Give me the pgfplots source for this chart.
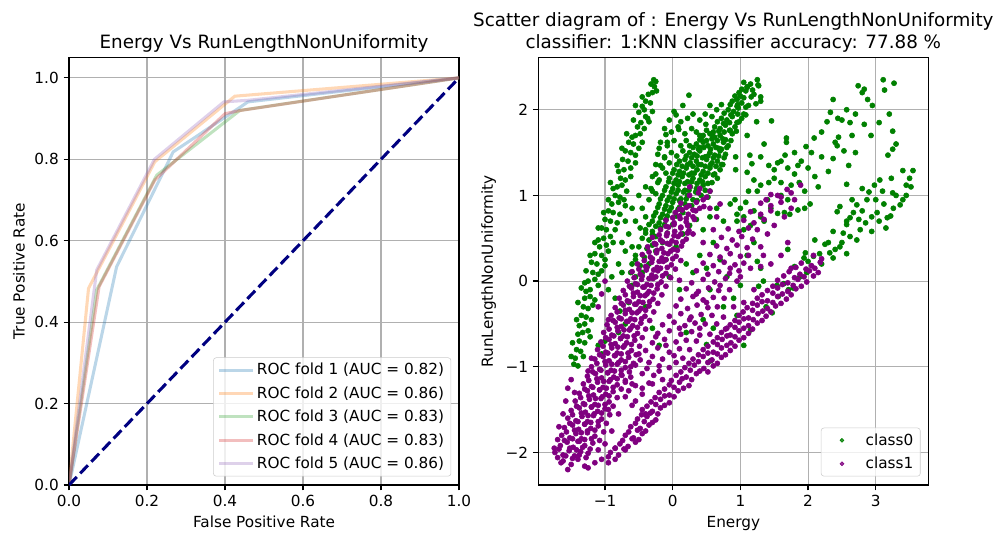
\documentclass[border=0pt]{standalone}
\usepackage{fontspec}
\setmainfont{DejaVu Sans}
\usepackage{pgfplots}
\pgfplotsset{compat=1.18}
\usepackage{pgfplotstable}
\definecolor{tabblue}{HTML}{1F77B4}
\definecolor{taborange}{HTML}{FF7F0E}
\definecolor{tabgreen}{HTML}{2CA02C}
\definecolor{tabred}{HTML}{D62728}
\definecolor{tabpurple}{HTML}{9467BD}
\definecolor{navyc}{HTML}{000080}
\definecolor{clsgreen}{HTML}{008000}
\definecolor{clspurple}{HTML}{800080}
\definecolor{gridgray}{HTML}{B0B0B0}
\definecolor{legendgray}{HTML}{CCCCCC}

\pgfplotstableread{
x y
-0.28 2.35
-0.25 2.33
-0.32 2.30
-0.27 2.27
-0.30 2.20
-0.36 2.18
-0.40 2.10
-0.33 2.08
-0.55 2.05
-0.45 2.04
-0.42 2.00
-0.50 1.97
-0.40 1.92
-0.37 1.90
-0.47 1.85
-0.35 1.86
-0.52 1.80
-0.55 1.70
-0.48 1.72
-0.60 1.68
-0.58 1.60
-0.65 1.62
-0.62 1.50
-0.70 1.52
-0.55 1.47
-0.66 1.40
-0.74 1.42
-0.72 1.30
-0.62 1.32
-0.80 1.28
-0.77 1.20
-0.70 1.18
-0.82 1.10
-0.75 1.12
-0.88 1.08
-0.85 1.00
-0.78 0.98
-0.90 0.90
-0.80 0.92
-0.70 0.88
-0.88 0.80
-0.95 0.82
-0.92 0.70
-1.00 0.72
-0.82 0.68
-0.98 0.60
-1.05 0.62
-1.02 0.50
-0.92 0.52
-1.10 0.48
-1.08 0.40
-0.98 0.42
-1.05 0.30
-1.15 0.32
-1.12 0.20
-1.20 0.22
-1.00 0.18
-1.18 0.10
-1.10 0.08
-1.25 0.00
-1.15 0.02
-1.30 -0.02
-1.22 -0.10
-1.28 -0.12
-1.30 -0.20
-1.22 -0.18
-1.15 -0.22
-1.32 -0.30
-1.25 -0.32
-1.35 -0.40
-1.28 -0.42
-1.30 -0.50
-1.38 -0.52
-1.33 -0.60
-1.40 -0.62
-1.25 -0.58
-1.38 -0.70
-1.30 -0.72
-1.42 -0.80
-1.36 -0.82
-1.44 -0.90
-1.46 -0.97
-1.40 -0.99
-1.10 -0.75
-1.05 -0.85
-1.00 -0.70
-0.24 2.22
-0.30 1.98
-0.42 1.78
-0.45 1.62
-0.50 1.55
-0.55 1.38
-0.62 1.22
-0.68 1.05
-0.72 0.95
-0.78 0.78
-0.85 0.60
-0.88 0.45
-0.95 0.35
-1.00 0.25
-1.05 0.12
-1.10 -0.05
-1.18 -0.28
-1.20 -0.45
-1.22 -0.65
-1.32 -0.88
-0.45 2.15
-0.58 1.88
-0.68 1.72
-0.75 1.55
-0.82 1.35
-0.92 1.15
-0.95 0.95
-1.02 0.80
-1.10 0.62
-1.15 0.45
-1.22 0.30
-1.28 0.12
-1.35 -0.08
-1.40 -0.25
-1.42 -0.45
-1.48 -0.72
-1.50 -0.88
-0.65 0.55
-0.55 0.70
-0.45 0.85
-0.60 0.85
-0.50 1.00
-0.40 1.10
-0.35 0.95
-0.70 0.70
-0.75 0.45
-0.60 0.40
-0.48 0.62
-0.40 0.75
-0.12 1.78
-0.02 1.74
0.08 1.80
0.18 1.72
0.28 1.78
0.35 1.74
0.12 1.86
0.22 1.90
-0.05 1.88
0.02 1.98
0.30 1.95
0.40 1.88
0.48 1.95
0.58 1.92
0.65 2.00
0.55 2.05
0.72 2.06
-0.18 1.62
-0.08 1.58
0.02 1.64
0.12 1.58
0.20 1.64
-0.22 1.48
-0.12 1.44
-0.02 1.50
0.06 1.46
-0.25 1.36
-0.15 1.32
-0.05 1.38
-0.30 1.22
-0.20 1.18
-0.10 1.26
-0.32 1.08
-0.25 1.02
0.15 2.05
1.05 2.32
1.15 2.30
1.25 2.35
1.27 2.28
1.10 2.26
0.98 2.20
1.08 2.22
1.20 2.18
1.30 2.15
0.88 2.10
0.95 2.12
1.02 2.08
1.12 2.05
0.82 2.00
0.90 1.98
0.97 2.02
1.05 1.95
0.72 1.90
0.80 1.88
0.88 1.92
0.95 1.85
1.02 1.90
0.62 1.80
0.70 1.78
0.78 1.82
0.85 1.76
0.92 1.80
0.45 1.70
0.55 1.72
0.62 1.68
0.70 1.70
0.78 1.65
0.88 1.72
0.40 1.65
0.35 1.60
0.45 1.62
0.52 1.58
0.60 1.60
0.68 1.55
0.75 1.62
0.82 1.58
0.25 1.58
0.25 1.50
0.32 1.48
0.40 1.52
0.48 1.45
0.55 1.50
0.62 1.47
0.70 1.52
0.78 1.48
0.15 1.52
0.10 1.40
0.18 1.42
0.26 1.38
0.35 1.40
0.42 1.36
0.50 1.42
0.58 1.38
0.66 1.40
0.74 1.36
0.02 1.30
0.10 1.28
0.20 1.32
0.28 1.26
0.36 1.30
0.45 1.28
0.55 1.32
0.62 1.25
0.70 1.30
-0.05 1.20
0.05 1.18
0.14 1.22
0.22 1.16
0.30 1.20
0.40 1.18
0.48 1.22
0.58 1.15
0.66 1.20
-0.10 1.10
0.00 1.08
0.08 1.12
0.18 1.06
0.26 1.10
0.35 1.08
0.45 1.12
0.55 1.05
-0.15 1.00
-0.05 0.98
0.05 1.02
0.12 0.96
0.22 1.00
0.30 0.95
0.42 1.00
0.52 0.98
-0.20 0.90
-0.10 0.88
0.00 0.92
0.10 0.86
0.18 0.90
0.28 0.88
-0.25 0.80
-0.15 0.78
-0.05 0.82
0.05 0.76
0.15 0.80
-0.30 0.70
-0.20 0.68
-0.10 0.72
0.00 0.66
-0.40 0.60
-0.30 0.58
-0.18 0.62
-0.08 0.56
-0.45 0.50
-0.35 0.48
-0.25 0.52
-0.50 0.40
-0.38 0.38
-0.30 0.42
-0.55 0.30
-0.42 0.28
-0.60 0.20
-0.48 0.18
-0.62 0.10
-0.55 0.05
1.02 2.24
1.18 2.23
0.92 2.16
1.05 2.14
1.16 2.15
0.85 2.06
0.95 2.04
1.08 2.03
0.76 1.96
0.86 1.94
0.96 1.95
1.08 1.94
0.66 1.86
0.75 1.84
0.84 1.85
0.98 1.86
0.50 1.76
0.60 1.74
0.68 1.75
0.76 1.74
0.84 1.76
0.94 1.75
0.42 1.66
0.50 1.64
0.58 1.66
0.66 1.64
0.74 1.66
0.86 1.64
0.30 1.56
0.38 1.54
0.46 1.56
0.56 1.54
0.64 1.56
0.72 1.54
0.80 1.56
0.20 1.46
0.28 1.44
0.36 1.46
0.44 1.44
0.52 1.46
0.60 1.44
0.68 1.46
0.76 1.44
0.06 1.36
0.14 1.34
0.22 1.36
0.30 1.34
0.38 1.36
0.48 1.34
0.56 1.36
0.64 1.34
0.72 1.36
0.00 1.26
0.08 1.24
0.16 1.26
0.24 1.24
0.32 1.26
0.42 1.24
0.52 1.26
0.60 1.24
-0.06 1.16
0.02 1.14
0.10 1.16
0.18 1.14
0.28 1.16
0.36 1.14
0.44 1.16
0.52 1.14
-0.12 1.06
-0.02 1.04
0.08 1.06
0.16 1.04
0.24 1.06
0.34 1.04
0.48 1.06
-0.18 0.96
-0.08 0.94
0.02 0.96
0.10 0.94
0.20 0.96
0.36 0.94
-0.22 0.86
-0.12 0.84
-0.02 0.86
0.08 0.84
-0.28 0.76
-0.18 0.74
-0.08 0.76
-0.35 0.66
-0.25 0.64
-0.12 0.66
-0.40 0.56
-0.30 0.54
-0.22 1.15
-0.18 1.35
-0.25 1.25
-0.12 1.45
-0.20 1.55
-0.30 1.05
-0.08 1.62
0.24 2.17
0.05 1.94
0.09 1.77
-0.10 1.71
0.49 1.83
0.58 1.71
0.40 1.70
0.40 1.56
0.96 2.06
1.00 2.16
1.10 2.27
1.26 2.29
1.23 2.07
1.30 2.10
1.24 1.86
1.10 1.70
0.93 1.30
0.93 1.45
1.10 1.27
-0.90 0.05
-0.80 0.20
-0.70 0.35
-0.75 0.10
-0.60 -0.05
-0.85 -0.20
-0.78 -0.35
-0.70 -0.50
-0.80 -0.60
-0.65 -0.25
-0.95 -0.10
-0.55 0.25
-0.45 0.10
-0.35 0.20
-0.25 0.35
-0.15 0.45
-0.10 0.25
0.05 0.40
0.15 0.55
0.25 0.65
0.35 0.72
0.45 0.60
0.55 0.75
0.65 0.85
0.75 0.70
0.85 0.90
0.95 0.78
0.40 0.30
0.60 0.45
0.30 0.10
0.50 0.15
0.70 0.25
0.80 0.05
0.55 -0.10
0.90 -0.20
1.00 -0.05
0.75 -0.30
0.45 -0.45
0.60 -0.55
0.95 -0.40
0.20 -0.60
-0.20 -0.75
-0.40 -0.30
-0.30 -0.55
0.50 -0.74
0.56 -0.93
0.10 -0.10
-0.05 0.05
0.20 0.20
1.10 0.30
1.20 0.45
1.05 0.60
1.30 0.75
3.11 2.35
3.27 2.31
3.13 2.23
2.74 2.28
2.80 2.20
2.88 2.12
2.83 2.24
2.37 2.12
2.57 2.00
2.33 1.97
3.20 1.95
2.62 1.85
2.50 1.88
2.28 1.86
2.44 1.90
2.83 1.83
2.20 1.74
2.09 1.67
2.45 1.68
2.40 1.62
2.93 1.70
3.25 1.54
3.18 1.47
2.43 1.58
2.05 1.50
2.20 1.45
2.37 1.43
2.53 1.52
1.97 1.57
1.90 1.40
2.00 1.32
2.10 1.22
1.68 1.62
1.66 1.47
1.55 1.38
1.70 1.32
1.85 1.35
1.80 1.25
1.87 1.15
1.42 1.35
1.50 1.30
1.60 1.40
1.14 1.47
1.17 1.37
1.20 1.18
1.30 1.12
1.42 1.15
1.50 1.20
1.60 1.15
1.75 1.12
1.12 1.05
1.25 1.05
1.46 1.87
1.68 1.67
1.60 1.00
1.40 0.95
1.70 0.95
1.95 1.05
2.15 1.10
2.30 1.28
2.60 1.35
2.70 1.50
1.80 1.50
1.30 1.45
1.35 1.60
3.05 1.85
2.95 2.05
3.30 1.60
3.25 1.75
2.70 1.95
2.65 1.70
3.40 1.29
3.55 1.29
3.45 1.12
3.52 1.10
2.57 1.13
2.80 1.08
2.90 1.04
3.06 1.18
3.23 1.20
2.98 1.12
3.10 1.05
3.25 1.03
3.45 1.00
2.65 0.95
3.36 0.89
3.17 0.74
3.22 0.76
3.26 0.85
3.02 0.80
3.12 0.90
2.87 0.95
2.77 0.60
2.85 0.68
2.94 0.75
2.62 0.74
2.72 0.89
2.67 0.80
2.43 0.81
2.47 0.87
2.57 0.66
2.57 0.70
2.37 0.58
2.52 0.56
2.62 0.52
2.72 0.48
2.94 0.58
2.10 0.48
1.96 0.33
2.25 0.43
2.40 0.37
2.32 0.33
2.47 0.40
2.57 0.32
2.20 0.20
2.37 0.27
2.17 0.32
2.00 0.23
2.08 0.29
1.94 0.27
1.80 0.17
1.70 0.37
1.27 -0.06
1.34 0.00
1.54 -0.05
1.64 -0.03
1.71 -0.10
1.78 -0.08
1.88 0.05
1.98 0.10
1.56 -0.18
1.47 -0.37
1.15 -0.57
1.25 0.23
1.30 0.15
1.05 -0.75
1.38 -0.30
3.30 1.00
3.40 0.95
3.00 0.95
2.80 0.82
3.15 0.62
3.05 0.70
2.50 0.45
2.30 0.45
2.75 0.72
3.50 1.20
0.92 0.95
1.00 0.85
1.08 0.92
0.95 0.70
1.05 0.75
1.15 0.65
1.20 0.82
1.45 0.85
1.55 0.79
1.65 0.80
1.73 0.78
1.85 0.83
1.95 0.85
2.03 0.90
1.35 0.70
}\classzero

\pgfplotstableread{
x y
-1.62 -2.10
-1.50 -2.14
-1.40 -2.08
-1.30 -2.16
-1.74 -2.00
-1.62 -2.03
-1.53 -1.98
-1.45 -2.04
-1.36 -1.99
-1.25 -2.01
-1.66 -1.92
-1.56 -1.88
-1.47 -1.94
-1.38 -1.87
-1.30 -1.92
-1.18 -1.89
-1.64 -1.80
-1.52 -1.83
-1.43 -1.78
-1.35 -1.84
-1.26 -1.77
-1.15 -1.81
-1.60 -1.71
-1.48 -1.68
-1.39 -1.73
-1.30 -1.67
-1.21 -1.72
-1.10 -1.69
-1.55 -1.60
-1.43 -1.63
-1.34 -1.58
-1.26 -1.64
-1.17 -1.57
-1.05 -1.61
-1.50 -1.51
-1.38 -1.48
-1.29 -1.53
-1.20 -1.47
-1.11 -1.52
-1.00 -1.49
-1.44 -1.40
-1.32 -1.43
-1.23 -1.38
-1.15 -1.44
-1.06 -1.37
-0.94 -1.41
-1.38 -1.31
-1.26 -1.28
-1.17 -1.33
-1.08 -1.27
-0.99 -1.32
-0.88 -1.29
-1.32 -1.20
-1.20 -1.23
-1.11 -1.18
-1.03 -1.24
-0.94 -1.17
-0.82 -1.21
-1.26 -1.11
-1.14 -1.08
-1.05 -1.13
-0.96 -1.07
-0.87 -1.12
-0.76 -1.09
-1.20 -1.00
-1.08 -1.03
-0.99 -0.98
-0.91 -1.04
-0.82 -0.97
-0.70 -1.01
-1.15 -0.91
-1.03 -0.88
-0.94 -0.93
-0.85 -0.87
-0.76 -0.92
-0.65 -0.89
-1.11 -0.80
-0.99 -0.83
-0.90 -0.78
-0.82 -0.84
-0.73 -0.77
-0.61 -0.81
-1.06 -0.71
-0.94 -0.68
-0.85 -0.73
-0.77 -0.67
-0.68 -0.72
-0.56 -0.69
-1.02 -0.60
-0.90 -0.63
-0.81 -0.58
-0.73 -0.64
-0.64 -0.57
-0.52 -0.61
-0.97 -0.51
-0.85 -0.48
-0.76 -0.53
-0.68 -0.47
-0.59 -0.52
-0.47 -0.49
-0.91 -0.40
-0.79 -0.43
-0.70 -0.38
-0.62 -0.44
-0.53 -0.37
-0.41 -0.41
-0.85 -0.31
-0.73 -0.28
-0.64 -0.33
-0.56 -0.27
-0.47 -0.32
-0.35 -0.29
-0.79 -0.20
-0.67 -0.23
-0.58 -0.18
-0.50 -0.24
-0.41 -0.17
-0.29 -0.21
-0.73 -0.11
-0.61 -0.08
-0.52 -0.13
-0.44 -0.07
-0.35 -0.12
-0.23 -0.09
-0.67 0.00
-0.55 -0.03
-0.46 0.02
-0.38 -0.04
-0.29 0.03
-0.17 -0.01
-0.60 0.11
-0.48 0.08
-0.39 0.13
-0.31 0.07
-0.22 0.12
-0.10 0.09
-0.52 0.20
-0.40 0.17
-0.31 0.22
-0.23 0.16
-0.14 0.23
-0.02 0.19
-0.45 0.31
-0.33 0.28
-0.24 0.33
-0.16 0.27
-0.07 0.32
0.05 0.29
-0.37 0.40
-0.25 0.43
-0.16 0.38
-0.08 0.44
0.01 0.37
0.13 0.41
-0.30 0.51
-0.18 0.48
-0.09 0.53
-0.01 0.47
0.08 0.52
0.20 0.49
-0.18 0.60
-0.06 0.63
0.03 0.58
0.12 0.62
0.24 0.59
-0.10 0.71
0.02 0.68
0.11 0.73
0.20 0.69
0.32 0.72
0.04 0.80
0.14 0.83
0.23 0.78
0.34 0.82
0.12 0.91
0.24 0.88
0.35 0.92
0.46 0.87
0.25 1.00
0.38 1.03
0.50 0.98
0.55 1.05
0.25 1.10
0.40 1.08
0.45 0.95
-1.70 -2.06
-1.58 -2.04
-1.48 -2.07
-1.38 -2.03
-1.28 -2.06
-1.68 -1.96
-1.52 -1.95
-1.42 -1.97
-1.33 -1.94
-1.22 -1.96
-1.10 -1.97
-1.60 -1.86
-1.48 -1.84
-1.40 -1.87
-1.30 -1.85
-1.20 -1.84
-1.08 -1.86
-1.57 -1.76
-1.45 -1.74
-1.35 -1.77
-1.26 -1.75
-1.15 -1.74
-1.02 -1.76
-1.52 -1.66
-1.40 -1.64
-1.30 -1.67
-1.21 -1.65
-1.10 -1.64
-0.98 -1.66
-1.48 -1.56
-1.35 -1.54
-1.25 -1.57
-1.16 -1.55
-1.05 -1.54
-0.93 -1.56
-1.42 -1.46
-1.30 -1.44
-1.20 -1.47
-1.10 -1.45
-1.00 -1.44
-0.88 -1.46
-1.36 -1.36
-1.24 -1.34
-1.14 -1.37
-1.04 -1.35
-0.94 -1.34
-0.82 -1.36
-1.30 -1.26
-1.18 -1.24
-1.08 -1.27
-0.98 -1.25
-0.88 -1.24
-0.76 -1.26
-1.24 -1.16
-1.12 -1.14
-1.02 -1.17
-0.92 -1.15
-0.82 -1.14
-0.70 -1.16
-1.18 -1.06
-1.06 -1.04
-0.96 -1.07
-0.86 -1.05
-0.76 -1.04
-0.64 -1.06
-1.12 -0.96
-1.00 -0.94
-0.90 -0.97
-0.80 -0.95
-0.70 -0.94
-0.58 -0.96
-1.08 -0.86
-0.96 -0.84
-0.86 -0.87
-0.76 -0.85
-0.66 -0.84
-0.54 -0.86
-1.03 -0.76
-0.91 -0.74
-0.81 -0.77
-0.71 -0.75
-0.61 -0.74
-0.49 -0.76
-0.99 -0.66
-0.87 -0.64
-0.77 -0.67
-0.67 -0.65
-0.57 -0.64
-0.45 -0.66
-0.94 -0.56
-0.82 -0.54
-0.72 -0.57
-0.62 -0.55
-0.52 -0.54
-0.40 -0.56
-0.88 -0.46
-0.76 -0.44
-0.66 -0.47
-0.56 -0.45
-0.46 -0.44
-0.34 -0.46
-0.82 -0.36
-0.70 -0.34
-0.60 -0.37
-0.50 -0.35
-0.40 -0.34
-0.28 -0.36
-0.76 -0.26
-0.64 -0.24
-0.54 -0.27
-0.44 -0.25
-0.34 -0.24
-0.22 -0.26
-0.70 -0.16
-0.58 -0.14
-0.48 -0.17
-0.38 -0.15
-0.28 -0.14
-0.16 -0.16
-0.64 -0.06
-0.52 -0.04
-0.42 -0.07
-0.32 -0.05
-0.22 -0.04
-0.10 -0.06
-0.57 0.04
-0.45 0.06
-0.35 0.03
-0.25 0.05
-0.15 0.06
-0.03 0.04
-0.50 0.14
-0.38 0.16
-0.28 0.13
-0.18 0.15
-0.08 0.16
0.04 0.14
-0.42 0.24
-0.30 0.26
-0.20 0.23
-0.10 0.25
0.00 0.26
0.12 0.24
-0.35 0.34
-0.23 0.36
-0.13 0.33
-0.03 0.35
0.07 0.36
-0.27 0.44
-0.15 0.46
-0.05 0.43
0.05 0.45
0.15 0.46
-0.20 0.54
-0.08 0.56
0.02 0.53
0.12 0.55
0.22 0.56
-0.10 0.64
0.02 0.66
0.12 0.63
0.22 0.65
0.00 0.74
0.10 0.76
0.20 0.73
0.30 0.75
0.10 0.84
0.20 0.86
0.30 0.83
0.40 0.85
-1.70 -1.85
-1.75 -1.95
-1.68 -1.70
-1.62 -1.55
-1.58 -1.40
-1.55 -1.25
-1.50 -1.15
-1.45 -1.30
-1.65 -2.12
-1.55 -2.20
-1.10 -0.30
-1.05 -0.15
-1.00 0.00
-0.95 -0.45
-1.20 -0.90
-1.25 -1.05
-1.15 -2.12
-1.05 -2.08
-1.25 -2.18
-0.65 -1.28
-0.45 -1.32
-0.70 -1.18
-0.55 -1.22
-0.35 -1.19
-0.62 -1.12
-0.45 -1.08
-0.28 -1.10
-0.55 -0.98
-0.38 -1.02
-0.20 -0.99
-0.05 -1.01
-0.48 -0.92
-0.30 -0.88
-0.15 -0.91
0.02 -0.87
-0.40 -0.81
-0.22 -0.78
-0.05 -0.83
0.10 -0.79
-0.30 -0.72
-0.12 -0.68
0.05 -0.71
0.20 -0.69
-0.22 -0.61
-0.05 -0.58
0.12 -0.62
0.28 -0.59
0.40 -0.63
-0.15 -0.51
0.02 -0.48
0.18 -0.52
0.33 -0.49
0.48 -0.50
-0.05 -0.41
0.12 -0.38
0.27 -0.42
0.42 -0.39
0.58 -0.40
0.05 -0.29
0.22 -0.32
0.36 -0.28
0.52 -0.31
0.66 -0.30
0.12 -0.21
0.30 -0.18
0.45 -0.22
0.60 -0.19
0.76 -0.20
0.20 -0.09
0.38 -0.12
0.53 -0.08
0.68 -0.11
0.84 -0.10
0.10 0.01
0.28 -0.02
0.45 0.02
0.62 -0.01
0.78 0.03
0.95 0.00
0.35 0.12
0.52 0.08
0.68 0.11
0.84 0.09
0.98 0.12
0.45 0.21
0.60 0.18
0.76 0.22
0.92 0.19
1.05 0.21
0.55 0.31
0.70 0.28
0.85 0.32
1.00 0.29
1.12 0.30
0.65 0.41
0.80 0.38
0.95 0.42
1.10 0.39
0.72 0.51
0.88 0.48
1.02 0.52
1.18 0.49
0.82 0.61
0.98 0.58
1.12 0.62
1.25 0.60
1.05 0.71
1.20 0.68
1.35 0.72
1.15 0.81
1.30 0.78
1.45 0.82
1.30 0.91
1.45 0.88
1.60 0.92
1.45 1.01
1.60 0.98
1.75 1.03
1.69 1.07
1.89 1.12
1.34 0.30
1.30 0.17
1.75 0.15
-0.55 -1.40
-0.45 -1.25
-0.40 -1.55
-0.30 -1.20
-0.15 -1.15
-0.20 -1.05
-0.62 -1.00
-0.50 -0.85
-0.35 -0.95
-0.25 -0.65
-0.10 -0.75
0.05 -0.95
0.15 -0.90
0.25 -0.80
0.35 -0.70
0.10 -0.55
0.25 -0.45
0.40 -0.55
0.55 -0.62
0.65 -0.50
0.75 -0.42
0.50 -0.25
0.35 -0.15
0.70 -0.05
0.85 0.15
1.00 0.05
1.15 0.15
1.20 -0.10
1.05 -0.25
0.90 -0.30
0.80 -0.55
1.30 0.40
1.40 0.55
1.50 0.65
1.38 0.95
1.55 1.00
0.60 0.60
0.45 0.45
0.30 0.55
0.65 0.75
0.55 0.85
0.70 0.90
1.45 0.20
1.60 0.30
1.70 0.45
1.65 0.75
1.75 0.85
1.80 0.95
-0.95 -2.12
-0.85 -2.08
-0.92 -2.00
-0.80 -2.03
-0.70 -1.97
-0.78 -1.90
-0.66 -1.93
-0.55 -1.88
-0.70 -1.80
-0.58 -1.83
-0.45 -1.78
-0.62 -1.70
-0.48 -1.72
-0.35 -1.68
-0.52 -1.61
-0.38 -1.58
-0.25 -1.62
-0.45 -1.50
-0.30 -1.52
-0.18 -1.48
-0.60 -1.45
-0.32 -1.41
-0.18 -1.38
-0.05 -1.42
-0.20 -1.30
-0.05 -1.33
0.08 -1.28
-0.05 -1.21
0.10 -1.18
0.24 -1.22
0.05 -1.10
0.20 -1.12
0.35 -1.08
0.18 -1.01
0.32 -0.98
0.46 -1.02
0.60 -0.99
0.30 -0.91
0.45 -0.88
0.58 -0.92
0.72 -0.89
0.45 -0.80
0.60 -0.83
0.72 -0.78
0.85 -0.81
0.60 -0.71
0.73 -0.68
0.86 -0.72
0.98 -0.69
0.72 -0.60
0.85 -0.63
0.98 -0.58
1.12 -0.61
0.85 -0.51
0.98 -0.48
1.12 -0.52
1.25 -0.49
0.98 -0.40
1.12 -0.43
1.26 -0.38
1.38 -0.41
1.10 -0.31
1.25 -0.28
1.40 -0.32
1.52 -0.29
1.25 -0.20
1.40 -0.23
1.55 -0.18
1.68 -0.21
1.40 -0.11
1.55 -0.08
1.70 -0.12
1.82 -0.09
1.55 0.01
1.70 -0.02
1.85 0.02
1.98 -0.01
1.72 0.11
1.88 0.08
2.02 0.12
2.15 0.10
1.90 0.21
2.05 0.18
2.18 0.22
2.08 0.30
2.20 0.26
-0.85 -1.95
-0.72 -1.96
-0.74 -1.86
-0.60 -1.84
-0.50 -1.85
-0.65 -1.76
-0.52 -1.74
-0.40 -1.75
-0.55 -1.66
-0.42 -1.64
-0.30 -1.65
-0.46 -1.56
-0.33 -1.54
-0.22 -1.55
-0.38 -1.46
-0.25 -1.44
-0.12 -1.45
-0.26 -1.36
-0.12 -1.34
0.02 -1.35
-0.12 -1.26
0.02 -1.24
0.16 -1.25
-0.02 -1.16
0.14 -1.14
0.28 -1.15
0.12 -1.06
0.26 -1.04
0.40 -1.05
0.52 -1.06
0.24 -0.96
0.38 -0.94
0.52 -0.95
0.66 -0.96
0.38 -0.86
0.52 -0.84
0.66 -0.85
0.78 -0.86
0.52 -0.76
0.66 -0.74
0.80 -0.75
0.92 -0.76
0.66 -0.66
0.80 -0.64
0.92 -0.65
1.05 -0.66
0.78 -0.56
0.92 -0.54
1.05 -0.55
1.18 -0.56
0.92 -0.46
1.05 -0.44
1.19 -0.45
1.32 -0.46
1.04 -0.36
1.18 -0.34
1.33 -0.35
1.45 -0.36
1.18 -0.26
1.32 -0.24
1.48 -0.25
1.60 -0.26
1.32 -0.16
1.48 -0.14
1.62 -0.15
1.75 -0.16
1.48 -0.06
1.62 -0.04
1.78 -0.05
1.90 -0.06
1.64 0.06
1.80 0.04
1.94 0.05
2.08 0.06
1.82 0.16
1.97 0.14
2.10 0.15
-0.90 -1.75
-0.80 -1.55
-0.70 -1.35
-0.95 -1.50
-0.85 -1.95
-0.60 -1.20
-0.75 -1.10
-1.00 -1.90
-0.95 -2.05
}\classone

\begin{document}
\begin{tikzpicture}
\path[use as bounding box] (0,0) rectangle (719.28pt,386.64pt);
\pgfplotsset{every axis/.append style={
  scale only axis, width=280.8pt, height=307.8pt, anchor=south west,
  tick pos=left, tick align=outside, major tick length=3.85pt,
  major tick style={black, line width=0.88pt},
  axis line style={line width=0.88pt},
  grid=major, major grid style={color=gridgray, line width=0.8pt},
  /pgf/number format/assume math mode=true,
  tick label style={font=\fontsize{11}{13}\selectfont},
  label style={font=\fontsize{11}{13}\selectfont},
  title style={font=\fontsize{13.2}{15.8}\selectfont, align=center, yshift=-6pt},
  legend style={font=\fontsize{11}{13}\selectfont, draw=legendgray, rounded corners=2pt,
    fill=white, fill opacity=0.8, text opacity=1, legend cell align=left,
    at={(0.98,0.02)}, anchor=south east, row sep=3pt},
}}
\begin{axis}[at={(49.7pt,37.44pt)},
  xmin=0, xmax=1, ymin=0, ymax=1.05,
  xtick={0,0.2,0.4,0.6,0.8,1}, ytick={0,0.2,0.4,0.6,0.8,1},
  xticklabel style={/pgf/number format/.cd,fixed,fixed zerofill,precision=1},
  yticklabel style={/pgf/number format/.cd,fixed,fixed zerofill,precision=1},
  xlabel={False Positive Rate}, ylabel={True Positive Rate},
  title={Energy Vs RunLengthNonUniformity},
  legend image code/.code={\draw[#1] (0cm,0cm) -- (0.85cm,0cm);},
]
\addplot[tabblue, line width=2.2pt, draw opacity=0.3] coordinates {(0,0) (0.122,0.536) (0.267,0.818) (0.459,0.941) (1,1)};
\addlegendentry{ROC fold 1 (AUC = 0.82)}
\addplot[taborange, line width=2.2pt, draw opacity=0.3] coordinates {(0,0) (0.050,0.483) (0.220,0.794) (0.425,0.955) (1,1)};
\addlegendentry{ROC fold 2 (AUC = 0.86)}
\addplot[tabgreen, line width=2.2pt, draw opacity=0.3] coordinates {(0,0) (0.071,0.479) (0.225,0.761) (0.438,0.920) (1,1)};
\addlegendentry{ROC fold 3 (AUC = 0.83)}
\addplot[tabred, line width=2.2pt, draw opacity=0.3] coordinates {(0,0) (0.077,0.487) (0.220,0.749) (0.400,0.912) (0.440,0.920) (1,1)};
\addlegendentry{ROC fold 4 (AUC = 0.83)}
\addplot[tabpurple, line width=2.2pt, draw opacity=0.3] coordinates {(0,0) (0.071,0.528) (0.219,0.800) (0.397,0.941) (0.460,0.945) (1,1)};
\addlegendentry{ROC fold 5 (AUC = 0.86)}
\addplot[navyc, line width=2.2pt, dash pattern=on 8.1pt off 3.5pt, forget plot] coordinates {(0,0) (1,1)};
\end{axis}

\begin{axis}[at={(387.6pt,37.44pt)},
  xmin=-1.985, xmax=3.777, ymin=-2.38, ymax=2.61,
  xtick={-1,0,1,2,3}, xticklabels={−1,0,1,2,3},
  ytick={-2,-1,0,1,2}, yticklabels={−2,−1,0,1,2},
  xlabel={Energy}, ylabel={RunLengthNonUniformity},
  title={Scatter diagram of : Energy Vs RunLengthNonUniformity\\classifier: 1:KNN classifier accuracy: 77.88 \%},
  axis on top,
]
\addplot[only marks, mark=*, mark size=1.85pt, clsgreen,
  legend image code/.code={\path[draw=none] (0cm,0cm) -- (0.95cm,0cm); \fill[clsgreen] (0.42cm,0cm) circle (1.4pt);}]
  table[x=x,y=y] {\classzero};
\addlegendentry{class0}
\addplot[only marks, mark=*, mark size=1.85pt, clspurple,
  legend image code/.code={\path[draw=none] (0cm,0cm) -- (0.95cm,0cm); \fill[clspurple] (0.42cm,0cm) circle (1.4pt);}]
  table[x=x,y=y] {\classone};
\addlegendentry{class1}
\end{axis}
\end{tikzpicture}
\end{document}
